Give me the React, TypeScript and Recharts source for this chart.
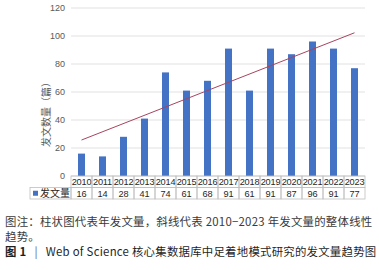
import {
  Bar,
  BarChart,
  CartesianGrid,
  ReferenceLine,
  XAxis,
  YAxis,
} from "recharts";

const YEARS = [
  "2010", "2011", "2012", "2013", "2014", "2015", "2016",
  "2017", "2018", "2019", "2020", "2021", "2022", "2023",
];
const COUNTS = [16, 14, 28, 41, 74, 61, 68, 91, 61, 91, 87, 96, 91, 77];
const Y_TICKS = [0, 20, 40, 60, 80, 100, 120];
// trend line at 2010 and 2023
const TREND_ENDS = [25.7, 102.3];

const SERIES_NAME = "发文量";
const Y_LABEL = "发文数量（篇）";

const data = YEARS.map((year, i) => ({ year, count: COUNTS[i] }));

const BLUE = "#4472C4";
const BORDER = "#bfbfbf";
const TEXT = "#3a3a3a";
const NUM_FONT = "'Liberation Sans', 'Noto Sans CJK SC', sans-serif";
const CJK_FONT = "'Noto Sans CJK SC', 'Liberation Sans', sans-serif";

const ROW_H = 11.5;
const LEGEND_W = 41;

function TableTick(props: any) {
  const { x, y, payload, index } = props;
  const half = payload?.offset ?? 10.5;
  const left = x - half;
  const w = half * 2;
  const i = index ?? payload?.index ?? 0;
  return (
    <g>
      <rect x={left} y={y} width={w} height={ROW_H} fill="none" stroke={BORDER} strokeWidth={0.8} />
      <rect x={left} y={y + ROW_H} width={w} height={ROW_H} fill="none" stroke={BORDER} strokeWidth={0.8} />
      <text x={x} y={y + ROW_H / 2 + 3.3} textAnchor="middle" fontSize={9.2} fill="#262626" fontFamily={NUM_FONT} letterSpacing={-0.2}>
        {payload.value}
      </text>
      <text x={x} y={y + ROW_H * 1.5 + 3.3} textAnchor="middle" fontSize={9.2} fill="#262626" fontFamily={NUM_FONT}>
        {COUNTS[i]}
      </text>
      {i === 0 && (
        <g>
          <rect x={left - LEGEND_W} y={y + ROW_H} width={LEGEND_W} height={ROW_H} fill="none" stroke={BORDER} strokeWidth={0.8} />
          <rect x={left - LEGEND_W + 3} y={y + ROW_H * 1.5 - 2.5} width={5} height={5} fill={BLUE} />
          <text x={left - LEGEND_W + 10} y={y + ROW_H * 1.5 + 3.5} fontSize={10} fill="#262626" fontFamily={CJK_FONT}>
            {SERIES_NAME}
          </text>
        </g>
      )}
    </g>
  );
}

function YLabel(props: any) {
  const vb = props.viewBox;
  const cx = 45;
  const cy = vb.y + vb.height / 2 + 20;
  return (
    <text
      x={cx}
      y={cy}
      transform={`rotate(-90, ${cx}, ${cy})`}
      textAnchor="middle"
      dominantBaseline="central"
      fontSize={10}
      fill="#595959"
      fontFamily={CJK_FONT}
    >
      {Y_LABEL}
    </text>
  );
}

const captionLine = {
  position: "absolute" as const,
  left: 5,
  height: 15,
  lineHeight: "15px",
  whiteSpace: "nowrap" as const,
};

export default function App() {
  return (
    <div style={{ position: "absolute", left: 0, top: 0, width: 379, height: 270, background: "#fff" }}>
      <BarChart
        width={379}
        height={205}
        data={data}
        margin={{ top: 8, right: 14, bottom: 6, left: 31 }}
        barCategoryGap={0}
      >
        <CartesianGrid stroke="#d9d9d9" strokeWidth={0.8} vertical={false} />
        <XAxis
          dataKey="year"
          axisLine={false}
          tickLine={false}
          tickSize={0}
          tickMargin={0}
          height={23}
          interval={0}
          tick={<TableTick />}
        />
        <YAxis
          width={40}
          domain={[0, 120]}
          ticks={Y_TICKS}
          axisLine={false}
          tickLine={false}
          tickSize={0}
          tickMargin={6}
          tick={{ fontSize: 9, fill: "#595959", fontFamily: NUM_FONT }}
          label={<YLabel />}
        />
        <Bar dataKey="count" name={SERIES_NAME} fill={BLUE} barSize={7} isAnimationActive={false} />
        <ReferenceLine
          segment={[
            { x: YEARS[0], y: TREND_ENDS[0] },
            { x: YEARS[YEARS.length - 1], y: TREND_ENDS[1] },
          ]}
          stroke="#A8445E"
          strokeWidth={1}
        />
      </BarChart>
      <div
        style={{
          fontFamily: CJK_FONT,
          fontSize: 11.4,
          letterSpacing: 0.25,
          color: TEXT,
        }}
      >
        <div style={{ ...captionLine, top: 214 }}>
          图注：柱状图代表年发文量，斜线代表 2010−2023 年发文量的整体线性
        </div>
        <div style={{ ...captionLine, top: 229 }}>趋势。</div>
        <div style={{ ...captionLine, top: 244, color: "#1f1f1f" }}>
          <span style={{ fontWeight: 700 }}>图 1</span>
          <span style={{ margin: "0 8px", color: "#666" }}>|</span>
          Web of Science 核心集数据库中足着地模式研究的发文量趋势图
        </div>
      </div>
    </div>
  );
}
